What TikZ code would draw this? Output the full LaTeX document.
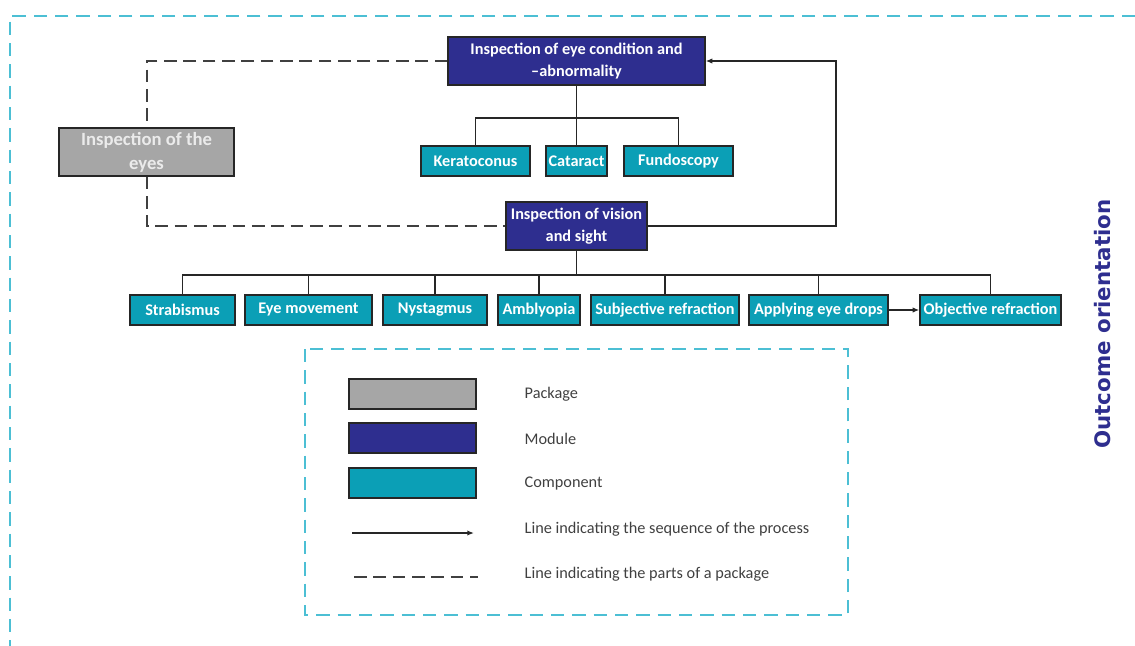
\documentclass[tikz,border=0pt]{standalone}
\usepackage{fontspec}
\setmainfont{Carlito}
\newfontfamily\sidefont{DejaVu Sans}
\usetikzlibrary{arrows.meta}
\definecolor{modblue}{HTML}{2E2E8F}
\definecolor{compteal}{HTML}{0B9FB6}
\definecolor{pkggray}{HTML}{A6A6A6}
\definecolor{framecyan}{HTML}{4CBFD4}
\definecolor{legtext}{HTML}{404040}
\tikzset{
  box/.style={draw=black!85, line width=1pt, inner sep=1pt, align=center,
    font=\bfseries\fontsize{12.2}{17}\selectfont, text=white},
  module/.style={box, fill=modblue, minimum height=36pt},
  comp/.style={box, fill=compteal, minimum height=22.5pt},
  package/.style={box, fill=pkggray, minimum height=36pt, text=white!92!black,
    font=\bfseries\fontsize{14}{18}\selectfont},
  seqline/.style={draw=black!85, line width=1.1pt, -{Latex[length=5pt,width=4pt]}},
  partline/.style={draw=black!75, line width=1.5pt, dash pattern=on 9.5pt off 5pt},
  treeline/.style={draw=black!85, line width=1.2pt},
  frameline/.style={draw=framecyan, line width=1.5pt, dash pattern=on 10pt off 6pt},
  legendlabel/.style={anchor=west, text=legtext, font=\fontsize{12.2}{14}\selectfont}
}
\begin{document}
\begin{tikzpicture}[x=0.75pt, y=-0.75pt]
  \useasboundingbox (0,0) rectangle (1135,646);
  \draw[frameline] (1135,16) -- (10,16) -- (10,646);

  \node[module, minimum width=192.75pt] (cond) at (576.5,61)
    {Inspection of eye condition and\\--abnormality};
  \node[package, minimum width=131.25pt] (pkg) at (146.5,152)
    {Inspection of the\\eyes};
  \node[comp, minimum width=81.75pt] (kera) at (475.5,161) {Keratoconus};
  \node[comp, minimum width=45.75pt] (cata) at (576.5,161) {Cataract};
  \node[comp, minimum width=81.75pt] (fundo) at (678.5,161) {Fundoscopy};
  \node[module, minimum width=105.75pt] (vision) at (576.5,226)
    {Inspection of vision\\and sight};

  \node[comp, minimum width=78.75pt] (strab) at (182.5,310) {Strabismus};
  \node[comp, minimum width=95.25pt] (eyemov) at (308.5,310) {Eye movement};
  \node[comp, minimum width=78pt] (nyst) at (435,310) {Nystagmus};
  \node[comp, minimum width=61.5pt] (ambly) at (539,310) {Amblyopia};
  \node[comp, minimum width=111pt] (subj) at (665,310) {Subjective refraction};
  \node[comp, minimum width=104.25pt] (drops) at (818.5,310) {Applying eye drops};
  \node[comp, minimum width=105.75pt] (obj) at (990.5,310) {Objective refraction};

  \coordinate (bar1) at (576.5,118);
  \coordinate (bar2) at (576.5,275);
  \coordinate (loop) at (836,61);

  \begin{scope}[treeline]
    \draw (cond.south) -- (cata.north);
    \draw (kera.north) |- (bar1) -| (fundo.north);
    \draw (vision.south) -- (bar2);
    \foreach \n in {strab,eyemov,nyst,ambly,subj,drops,obj}
      \draw (bar2) -| (\n.north);
  \end{scope}

  \draw[seqline] (vision.east) -| (loop) -- (cond.east);
  \draw[seqline] (drops.east) -- (obj.west);

  \draw[partline] (cond.west) -| (pkg.north);
  \draw[partline] (pkg.south) |- (vision.west);

  \node[rotate=90, text=modblue, font=\sidefont\bfseries\fontsize{16}{18}\selectfont]
    (side) at (1103,324) {Outcome orientation};

  \draw[frameline] (305,349) rectangle (848,615);
  \node[package, minimum width=95.25pt, minimum height=22.5pt] (legpkg) at (412.5,394) {};
  \node[module, minimum width=95.25pt, minimum height=22.5pt] (legmod) at (412.5,438) {};
  \node[comp, minimum width=95.25pt] (legcomp) at (412.5,483) {};
  \coordinate (seqa) at (352,533);
  \coordinate (seqb) at (474,533);
  \coordinate (parta) at (354,577);
  \coordinate (partb) at (478,577);
  \draw[seqline] (seqa) -- (seqb);
  \draw[partline] (parta) -- (partb);
  \node[legendlabel] (lpkg) at (520,394) {Package};
  \node[legendlabel] (lmod) at (520,439) {Module};
  \node[legendlabel] (lcomp) at (520,484) {Component};
  \node[legendlabel] (lseq) at (520,529) {Line indicating the sequence of the process};
  \node[legendlabel] (lpart) at (520,574) {Line indicating the parts of a package};
\end{tikzpicture}
\end{document}
